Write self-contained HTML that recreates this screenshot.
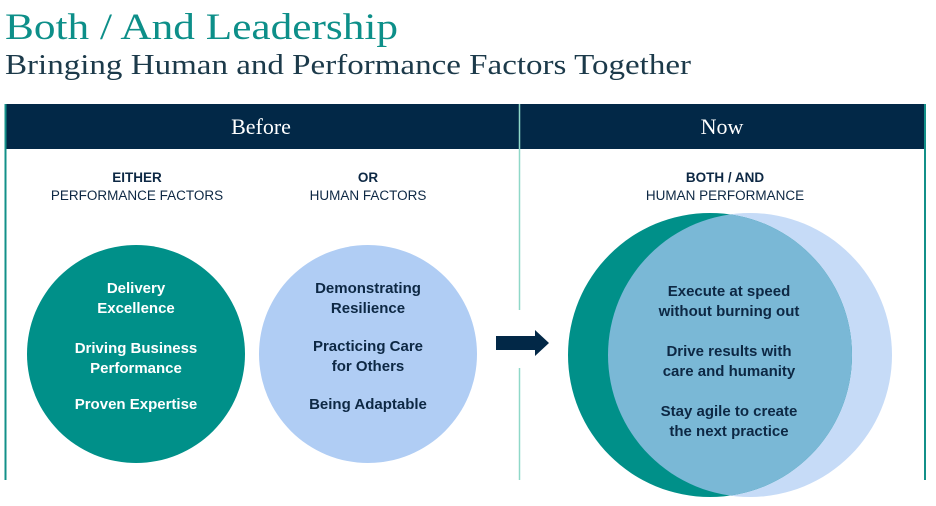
<!DOCTYPE html>
<html><head><meta charset="utf-8"><style>
html,body{margin:0;padding:0;background:#fff;width:936px;height:506px;overflow:hidden}
svg text{font-family:"Liberation Sans",sans-serif}
.s{font-family:"Liberation Serif",serif}
</style></head><body>
<svg width="936" height="506" viewBox="0 0 936 506" xmlns="http://www.w3.org/2000/svg">
<text class="s" x="5" y="39" font-size="37" fill="#0d8f89" textLength="393" lengthAdjust="spacingAndGlyphs">Both / And Leadership</text>
<text class="s" x="5" y="74" font-size="28" fill="#1c3a4a" textLength="686" lengthAdjust="spacingAndGlyphs">Bringing Human and Performance Factors Together</text>
<rect x="5" y="104" width="921" height="45" fill="#022847"/>
<line x1="519.5" y1="104" x2="519.5" y2="149" stroke="#8fd8c8" stroke-width="1.5"/>
<text class="s" x="261" y="134" font-size="22" fill="#fff" text-anchor="middle">Before</text>
<text class="s" x="722" y="134" font-size="22" fill="#fff" text-anchor="middle">Now</text>
<line x1="5.5" y1="104" x2="5.5" y2="480" stroke="#139089" stroke-width="2"/>
<line x1="925" y1="104" x2="925" y2="480" stroke="#139089" stroke-width="2"/>
<line x1="519.5" y1="149" x2="519.5" y2="310" stroke="#8fd8c8" stroke-width="1.5"/>
<line x1="519.5" y1="368" x2="519.5" y2="480" stroke="#8fd8c8" stroke-width="1.5"/>
<g font-size="13.5" fill="#0d2844" text-anchor="middle">
<text x="137" y="182" font-weight="bold">EITHER</text>
<text x="137" y="200">PERFORMANCE FACTORS</text>
<text x="368" y="182" font-weight="bold">OR</text>
<text x="368" y="200">HUMAN FACTORS</text>
<text x="725" y="182" font-weight="bold">BOTH / AND</text>
<text x="725" y="200">HUMAN PERFORMANCE</text>
</g>
<circle cx="136" cy="354" r="109" fill="#009089"/>
<circle cx="368" cy="354" r="109" fill="#b0cdf4"/>
<g font-size="15" font-weight="bold" text-anchor="middle" fill="#fff">
<text x="136" y="293">Delivery</text><text x="136" y="313">Excellence</text>
<text x="136" y="353">Driving Business</text><text x="136" y="373">Performance</text>
<text x="136" y="409">Proven Expertise</text>
</g>
<g font-size="15" font-weight="bold" text-anchor="middle" fill="#0d2844">
<text x="368" y="293">Demonstrating</text><text x="368" y="313">Resilience</text>
<text x="368" y="351">Practicing Care</text><text x="368" y="371">for Others</text>
<text x="368" y="409">Being Adaptable</text>
</g>
<polygon points="496,336 535,336 535,330 549,343 535,356 535,350 496,350" fill="#022847"/>
<defs><clipPath id="c"><circle cx="710" cy="355" r="142"/></clipPath></defs>
<circle cx="750" cy="355" r="142" fill="#c6dbf7"/>
<circle cx="710" cy="355" r="142" fill="#009089"/>
<circle cx="750" cy="355" r="142" fill="#7ab8d6" clip-path="url(#c)"/>
<g font-size="15" font-weight="bold" text-anchor="middle" fill="#0d2844">
<text x="729" y="296">Execute at speed</text><text x="729" y="316">without burning out</text>
<text x="729" y="356">Drive results with</text><text x="729" y="376">care and humanity</text>
<text x="729" y="416">Stay agile to create</text><text x="729" y="436">the next practice</text>
</g>
</svg>
</body></html>
